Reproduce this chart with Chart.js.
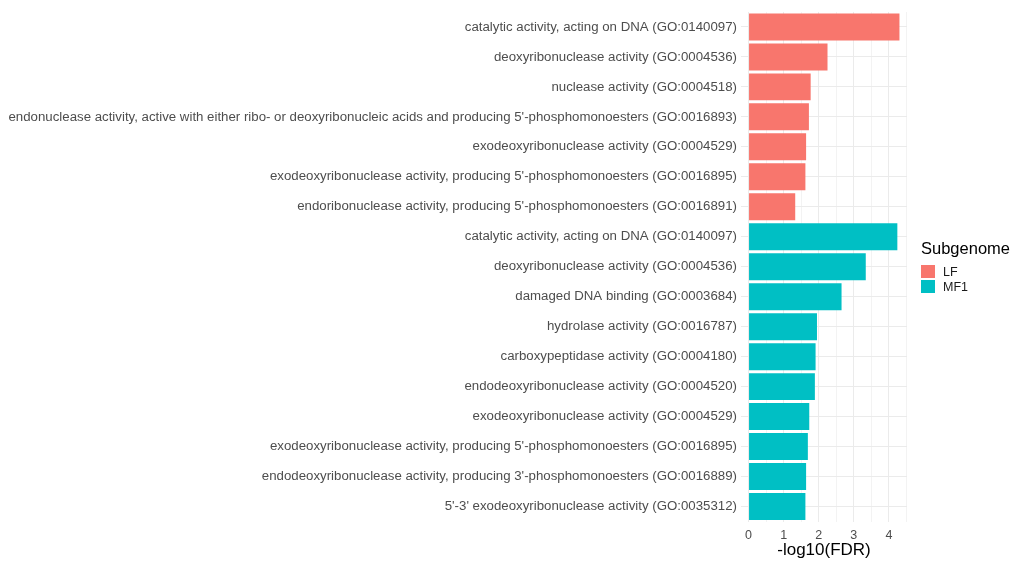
<!DOCTYPE html>
<html>
<head>
<meta charset="utf-8">
<script src="https://cdn.jsdelivr.net/npm/chart.js@4.4.1/dist/chart.umd.min.js"></script>
<style>
  html, body { margin: 0; padding: 0; background: #fff; }
  #wrap { position: relative; width: 1011px; height: 561px; }
  #legend { position: absolute; left: 921px; top: 238px; font-family: "Liberation Sans", Arial, sans-serif; }
  #legend .title { font-size: 16.5px; color: #000; line-height: 20px; margin-bottom: 6px; }
  #legend .row { display: flex; align-items: center; height: 15px; font-size: 12.5px; color: #1a1a1a; }
  #legend .key { width: 14px; height: 13px; margin-right: 8px; }
</style>
</head>
<body>
<div id="wrap">
  <canvas id="goChart" width="1011" height="561"></canvas>
  <div id="legend"></div>
</div>
<script>
// GO terms enriched per subgenome, listed top to bottom
const lfTerms = [
  "catalytic activity, acting on DNA (GO:0140097)",
  "deoxyribonuclease activity (GO:0004536)",
  "nuclease activity (GO:0004518)",
  "endonuclease activity, active with either ribo- or deoxyribonucleic acids and producing 5'-phosphomonoesters (GO:0016893)",
  "exodeoxyribonuclease activity (GO:0004529)",
  "exodeoxyribonuclease activity, producing 5'-phosphomonoesters (GO:0016895)",
  "endoribonuclease activity, producing 5'-phosphomonoesters (GO:0016891)"
];
const lfValues = [4.30, 2.25, 1.77, 1.72, 1.64, 1.62, 1.33];

const mf1Terms = [
  "catalytic activity, acting on DNA (GO:0140097)",
  "deoxyribonuclease activity (GO:0004536)",
  "damaged DNA binding (GO:0003684)",
  "hydrolase activity (GO:0016787)",
  "carboxypeptidase activity (GO:0004180)",
  "endodeoxyribonuclease activity (GO:0004520)",
  "exodeoxyribonuclease activity (GO:0004529)",
  "exodeoxyribonuclease activity, producing 5'-phosphomonoesters (GO:0016895)",
  "endodeoxyribonuclease activity, producing 3'-phosphomonoesters (GO:0016889)",
  "5'-3' exodeoxyribonuclease activity (GO:0035312)"
];
const mf1Values = [4.24, 3.34, 2.65, 1.95, 1.91, 1.89, 1.73, 1.69, 1.64, 1.62];

const xTicks = [0, 1, 2, 3, 4];

const LF_COLOR = "#F8766D";
const MF1_COLOR = "#00BFC4";
const FONT = "'Liberation Sans', Arial, sans-serif";

// one row per bar, LF block first then MF1
const labels = lfTerms.concat(mf1Terms);
const lfData = lfValues.concat(mf1Terms.map(() => null));
const mf1Data = lfTerms.map(() => null).concat(mf1Values);

// ggplot-style 5% expansion of the value axis
const dataMax = Math.max(...lfValues, ...mf1Values);
const xMin = -0.05 * dataMax;
const xMax = dataMax * 1.05;

const chart = new Chart(document.getElementById("goChart"), {
  type: "bar",
  data: {
    labels: labels,
    datasets: [
      { label: "LF", data: lfData, backgroundColor: LF_COLOR },
      { label: "MF1", data: mf1Data, backgroundColor: MF1_COLOR }
    ]
  },
  options: {
    indexAxis: "y",
    responsive: false,
    animation: false,
    grouped: false,
    barPercentage: 0.9,
    categoryPercentage: 1,
    layout: { padding: { top: 7, right: 104, left: 0, bottom: 0 } },
    plugins: { legend: { display: false }, tooltip: { enabled: false } },
    scales: {
      x: {
        min: xMin,
        max: xMax,
        border: { display: false },
        afterBuildTicks: (scale) => {
          // majors on integers, minors halfway between
          const t = [];
          for (let v = 0; v <= 4.5; v += 0.5) t.push({ value: v });
          scale.ticks = t;
        },
        afterFit: (scale) => { scale.height = 39.5; },
        grid: {
          drawTicks: false,
          lineWidth: 1,
          color: (ctx) => (ctx.tick && Number.isInteger(ctx.tick.value)) ? "#ebebeb" : "#f3f3f3"
        },
        ticks: {
          padding: 7,
          color: "#4d4d4d",
          font: { family: FONT, size: 12.5 },
          callback: (v) => xTicks.includes(v) ? String(v) : ""
        },
        title: {
          display: true,
          text: "-log10(FDR)",
          color: "#000",
          font: { family: FONT, size: 17 },
          padding: { top: 0, bottom: 0 }
        }
      },
      y: {
        border: { display: false },
        afterFit: (scale) => { scale.width = 741; },
        grid: { offset: false, drawTicks: false, color: "#ebebeb", lineWidth: 1 },
        ticks: {
          padding: 4,
          color: "#4d4d4d",
          font: { family: FONT, size: 13.25 },
          autoSkip: false
        }
      }
    }
  }
});

// legend drawn as html next to the plot
const legendEl = document.getElementById("legend");
legendEl.innerHTML = '<div class="title">Subgenome</div>' +
  chart.data.datasets.map(ds =>
    `<div class="row"><span class="key" style="background:${ds.backgroundColor}"></span>${ds.label}</div>`
  ).join("");
</script>
</body>
</html>
